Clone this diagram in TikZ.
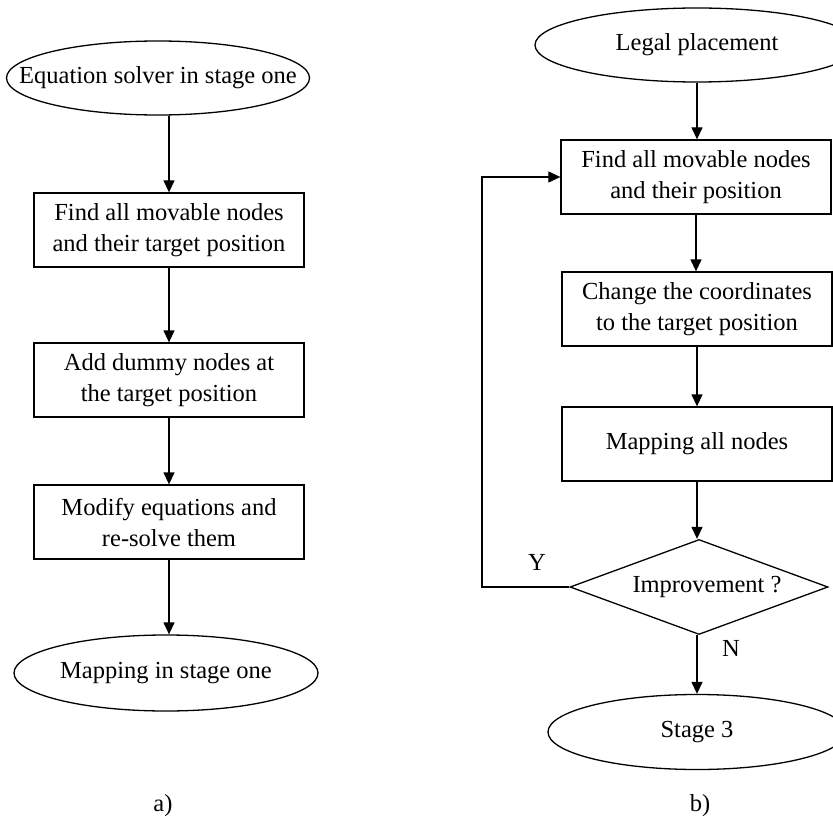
\documentclass[tikz,border=0pt]{standalone}
\usepackage{fontspec}
\setmainfont{Liberation Serif}
\usetikzlibrary{shapes.geometric,arrows.meta}
\begin{document}
\begin{tikzpicture}[x=1pt,y=-1pt,
  every node/.style={font=\fontsize{24.5}{31}\selectfont},
  stepbox/.style={draw,line width=1.3pt,minimum width=270pt,minimum height=74pt,
    inner sep=0pt,align=center},
  oval/.style={draw,ellipse,line width=1.3pt,inner sep=0pt},
  decision/.style={draw,diamond,line width=1.3pt,inner sep=0pt},
  flow/.style={line width=1.3pt,-{Triangle[length=12pt,width=11pt]}},
  loopline/.style={line width=1.1pt,-{Triangle[length=12pt,width=11pt]}}]
\clip (0,0) rectangle (833,824);

% ---- a) solver flow ----
\node[oval,minimum width=303pt,minimum height=74pt] (l0) at (158,78) {};
\node at (l0) {Equation solver in stage one};
\node[stepbox] (l1) at (169,230) {Find all movable nodes\\and their target position};
\node[stepbox] (l2) at (169,380) {Add dummy nodes at\\the target position};
\node[stepbox] (l3) at (169,522) {Modify equations and\\re-solve them};
\node[oval,minimum width=304pt,minimum height=76pt] (l4) at (166,673) {};
\node at (l4) {Mapping in stage one};
\node (la) at (163,806) {a)};

\draw[flow] (l0.south -| l1.north) -- (l1.north);
\draw[flow] (l1.south) -- (l2.north);
\draw[flow] (l2.south) -- (l3.north);
\draw[flow] (l3.south) -- (l3.south |- l4.north);

% ---- b) improvement loop ----
\node[oval,minimum width=324pt,minimum height=74pt] (r0) at (697,45) {};
\node at (r0) {Legal placement};
\node[stepbox] (r1) at (696,177) {Find all movable nodes\\and their position};
\node[stepbox] (r2) at (697,309) {Change the coordinates\\to the target position};
\node[stepbox] (r3) at (697,444) {Mapping all nodes};
\node[decision,minimum width=258pt,minimum height=95pt] (d) at (699,587) {};
\node at ([xshift=8pt]d.center) {Improvement ?};
\node[oval,minimum width=298pt,minimum height=75pt] (r4) at (697,732) {};
\node at (r4) {Stage 3};
\node (lb) at (700,806) {b)};

\coordinate (bend) at (482,587);
\draw[flow] (r0.south) -- (r0.south |- r1.north);
\draw[flow] (r1.south) -- (r1.south |- r2.north);
\draw[flow] (r2.south) -- (r2.south |- r3.north);
\draw[flow] (r3.south) -- (r3.south |- d.north);
\draw[flow] (r3.south |- d.south) -- (r3.south |- r4.north);
\draw[loopline] (d.west) -- (bend) -- (bend |- r1.west) -- (r1.west);
\node (ly) at (537,562) {Y};
\node (ln) at (731,648) {N};
\end{tikzpicture}
\end{document}
